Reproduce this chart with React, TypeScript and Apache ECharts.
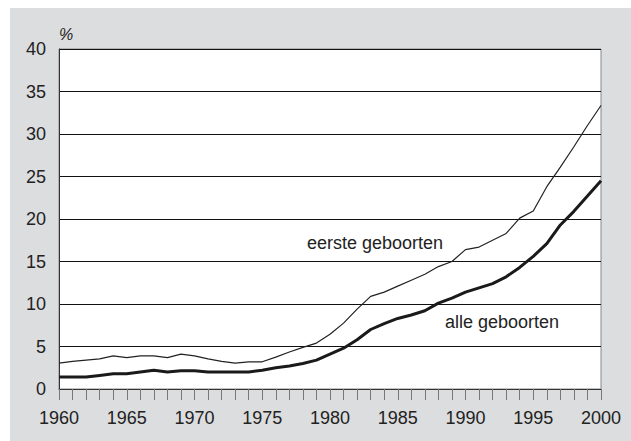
import React, { useEffect, useRef } from "react";
import * as echarts from "echarts";

const years = [
  1960, 1961, 1962, 1963, 1964, 1965, 1966, 1967, 1968, 1969,
  1970, 1971, 1972, 1973, 1974, 1975, 1976, 1977, 1978, 1979,
  1980, 1981, 1982, 1983, 1984, 1985, 1986, 1987, 1988, 1989,
  1990, 1991, 1992, 1993, 1994, 1995, 1996, 1997, 1998, 1999, 2000,
];

const eersteGeboorten = [
  3.05, 3.25, 3.4, 3.55, 3.9, 3.7, 3.9, 3.9, 3.7, 4.1,
  3.9, 3.55, 3.25, 3.05, 3.2, 3.2, 3.75, 4.35, 4.9, 5.4,
  6.45, 7.75, 9.4, 10.9, 11.4, 12.1, 12.8, 13.5, 14.4, 15.0,
  16.4, 16.7, 17.5, 18.3, 20.1, 20.95, 23.8, 26.1, 28.5, 31.0, 33.35,
];

const alleGeboorten = [
  1.4, 1.4, 1.4, 1.6, 1.8, 1.8, 2.0, 2.2, 2.0, 2.15,
  2.15, 2.0, 2.0, 2.0, 2.0, 2.2, 2.5, 2.7, 3.0, 3.4,
  4.1, 4.8, 5.8, 7.0, 7.7, 8.3, 8.7, 9.2, 10.1, 10.7,
  11.4, 11.9, 12.4, 13.2, 14.3, 15.6, 17.1, 19.3, 20.9, 22.7, 24.5,
];

const yTicks = { min: 0, max: 40, interval: 5 };
const xTicks = { min: 1960, max: 2000, interval: 5 };

const labelEerste = "eerste geboorten";
const labelAlle = "alle geboorten";
const unitLabel = "%";

export default function App() {
  const ref = useRef<HTMLDivElement>(null);

  useEffect(() => {
    if (!ref.current) return;
    const chart = echarts.init(ref.current, undefined, { renderer: "svg" });
    const font = "'Liberation Sans', Arial, sans-serif";
    const textColor = "#222";

    chart.setOption({
      animation: false,
      backgroundColor: "#ffffff",
      textStyle: { fontFamily: font },
      graphic: [
        {
          type: "rect",
          z: -10,
          silent: true,
          shape: { x: 10, y: 8, width: 640, height: 450 },
          style: { fill: "#dcdddf" },
        },
        {
          type: "text",
          left: 59,
          top: 26,
          style: {
            text: unitLabel,
            fill: textColor,
            font: `italic 16px ${font}`,
          },
        },
        {
          type: "text",
          left: 307,
          top: 234,
          z: 10,
          style: {
            text: labelEerste,
            fill: textColor,
            font: `18px ${font}`,
          },
        },
        {
          type: "text",
          left: 445,
          top: 313,
          z: 10,
          style: {
            text: labelAlle,
            fill: textColor,
            font: `18px ${font}`,
          },
        },
      ],
      grid: {
        left: 59,
        right: 30,
        top: 49,
        bottom: 52,
        show: true,
        backgroundColor: "#ffffff",
        borderColor: "#888",
        borderWidth: 1,
      },
      xAxis: {
        type: "value",
        min: xTicks.min,
        max: xTicks.max,
        interval: xTicks.interval,
        axisLine: { show: true, onZero: false, lineStyle: { color: "#333", width: 1 } },
        axisTick: { show: true, length: 11, lineStyle: { color: "#777", width: 1 } },
        minorTick: { show: true, splitNumber: 5, length: 11, lineStyle: { color: "#777", width: 1 } },
        splitLine: { show: false },
        axisLabel: {
          color: textColor,
          fontSize: 18,
          margin: 20,
          fontFamily: font,
          formatter: (v: number) => String(v),
        },
      },
      yAxis: {
        type: "value",
        min: yTicks.min,
        max: yTicks.max,
        interval: yTicks.interval,
        axisLine: { show: true, lineStyle: { color: "#333", width: 1 } },
        axisTick: { show: false },
        splitLine: { show: true, lineStyle: { color: "#111", width: 1 } },
        axisLabel: {
          color: textColor,
          fontSize: 18,
          margin: 13,
          fontFamily: font,
        },
      },
      series: [
        {
          name: labelEerste,
          type: "line",
          data: years.map((y, i) => [y, eersteGeboorten[i]]),
          symbol: "none",
          lineStyle: { color: "#222", width: 1.2 },
          z: 5,
        },
        {
          name: labelAlle,
          type: "line",
          data: years.map((y, i) => [y, alleGeboorten[i]]),
          symbol: "none",
          lineStyle: { color: "#1a1a1a", width: 3 },
          z: 6,
        },
      ],
    });

    return () => chart.dispose();
  }, []);

  return (
    <div
      ref={ref}
      style={{ position: "fixed", left: 0, top: 0, width: 631, height: 441 }}
    />
  );
}
